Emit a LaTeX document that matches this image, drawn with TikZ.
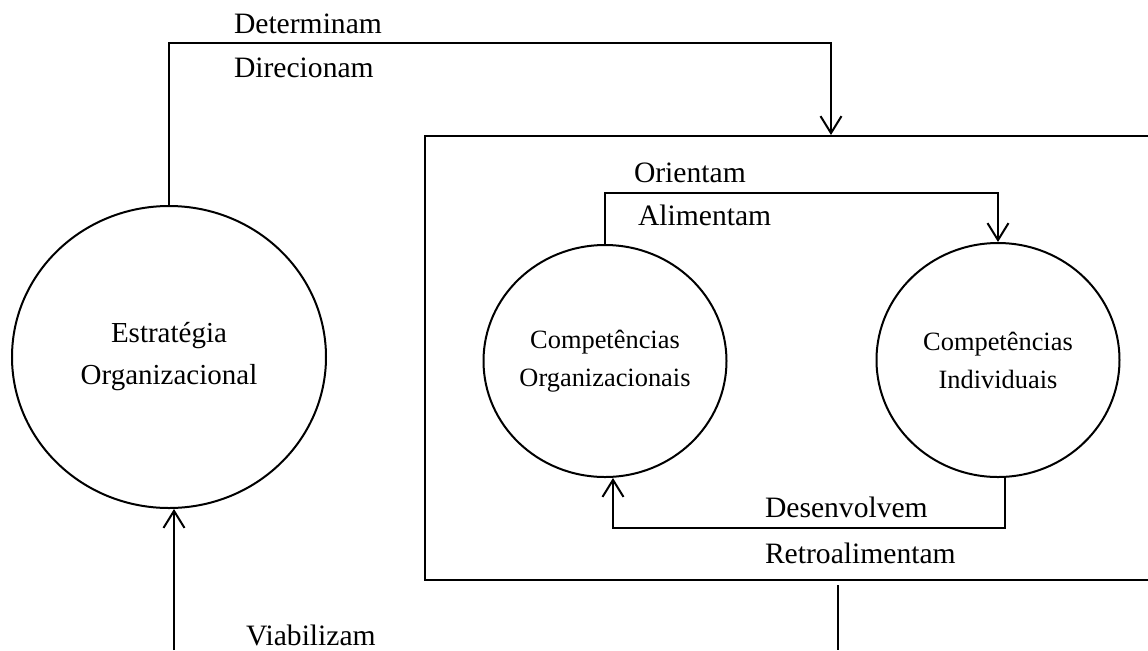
\documentclass[tikz,border=0pt]{standalone}
\usepackage{fontspec}
\setmainfont{Liberation Serif}
\usetikzlibrary{arrows.meta,shapes.geometric}
\begin{document}
\begin{tikzpicture}[x=0.5pt,y=-0.5pt,
  line width=1pt,
  circ/.style={draw, ellipse, inner sep=0pt, align=center},
  lab/.style={anchor=base west, inner sep=0pt, font=\fontsize{14.8}{17}\selectfont},
  arr/.style={-{Straight Barb[length=8.5pt,width=10.5pt,line width=1pt]}}]
\useasboundingbox (0,0) rectangle (1148,650);
\clip (0,0) rectangle (1148,650);
\fill[white] (0,0) rectangle (1148,650);

% circles
\node[circ, minimum width=157pt, minimum height=151pt,
      font=\fontsize{14.5}{21}\selectfont] (eo) at (169,357) {Estratégia\\Organizacional};
\node[circ, minimum width=121.5pt, minimum height=116pt,
      font=\fontsize{13.2}{19}\selectfont] (co) at (605,361) {Competências\\Organizacionais};
\node[circ, minimum width=121.5pt, minimum height=117pt,
      font=\fontsize{13.2}{19}\selectfont] (ci) at (998,360) {Competências\\Individuais};

% enclosing box (runs past the right edge)
\node[draw, anchor=north west, inner sep=0pt, minimum width=388pt, minimum height=222pt] (box) at (424,135) {};

% connectors
\coordinate (k1) at (831,43);
\draw[arr] (eo.north) |- (k1) -- (k1 |- box.north);

\coordinate (k2) at (998,193);
\draw[arr] (co.north) |- (k2) -- (ci.north);

\coordinate (k3) at (1005,528);
\coordinate (k4) at (613,528);
\draw[arr] (ci.south -| k3) -- (k3) -- (k4) -- (co.south -| k4);

\coordinate (vb) at (174,650);
\draw[arr] (vb) -- (vb |- eo.south);

\coordinate (r1) at (838,585);
\coordinate (r2) at (838,650);
\draw (r1) -- (r2);

% labels
\node[lab] (l1) at (233,33) {Determinam};
\node[lab] (l2) at (233,77) {Direcionam};
\node[lab] (l3) at (633,182) {Orientam};
\node[lab] (l4) at (637,225) {Alimentam};
\node[lab] (l5) at (764,517) {Desenvolvem};
\node[lab] (l6) at (764,563) {Retroalimentam};
\node[lab] (l7) at (245,645) {Viabilizam};
\end{tikzpicture}
\end{document}
